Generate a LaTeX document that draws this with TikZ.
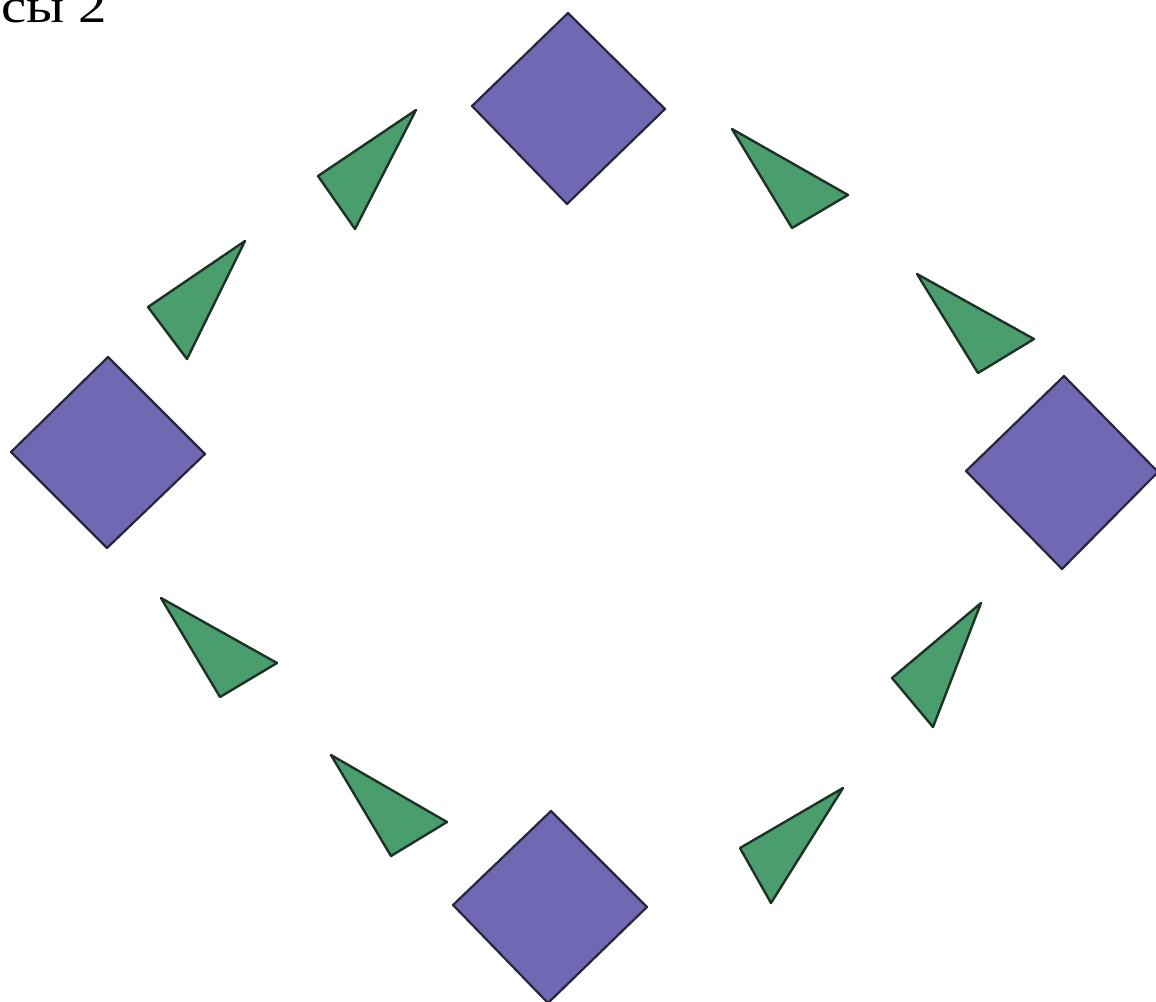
\documentclass[tikz,border=0pt]{standalone}
\usepackage{fontspec}
\setmainfont{Liberation Serif}
\definecolor{dfill}{RGB}{112,104,178}
\definecolor{tfill}{RGB}{74,158,110}
\definecolor{dline}{RGB}{40,38,60}
\definecolor{tline}{RGB}{30,50,38}
\tikzset{
  diam/.style={fill=dfill, draw=dline, line width=2.2pt, line join=round},
  tri/.style={fill=tfill, draw=tline, line width=2.4pt, line join=round},
  lbl/.style={anchor=base west, inner sep=0pt, text=black, font=\fontsize{48}{48}\selectfont}
}
\begin{document}
\begin{tikzpicture}[x=1pt,y=-1pt]
\useasboundingbox (0,0) rectangle (1156,1001);
\clip (0,0) rectangle (1156,1001);
\fill[white] (0,0) rectangle (1156,1001);
% label
\node[lbl] (title) at (1,23) {\scalebox{1.18}[1]{сы 2}};
% diamonds
\draw[diam] (568,13) -- (665,109) -- (567,204) -- (472,106) -- cycle;
\draw[diam] (108,357) -- (205,454) -- (107,548) -- (11,452) -- cycle;
\draw[diam] (1064,376) -- (1158,472) -- (1062,569) -- (966,471) -- cycle;
\draw[diam] (551,811) -- (647,907) -- (548,1003) -- (453,905) -- cycle;
% triangles
\draw[tri] (416,110) -- (318,176) -- (355,229) -- cycle;
\draw[tri] (732,129) -- (848,195) -- (792,228) -- cycle;
\draw[tri] (245,241) -- (148,307) -- (187,359) -- cycle;
\draw[tri] (917,274) -- (1034,339) -- (978,373) -- cycle;
\draw[tri] (161,598) -- (277,663) -- (220,697) -- cycle;
\draw[tri] (981,603) -- (892,678) -- (933,727) -- cycle;
\draw[tri] (331,755) -- (447,822) -- (391,856) -- cycle;
\draw[tri] (843,788) -- (740,848) -- (771,903) -- cycle;
\end{tikzpicture}
\end{document}
